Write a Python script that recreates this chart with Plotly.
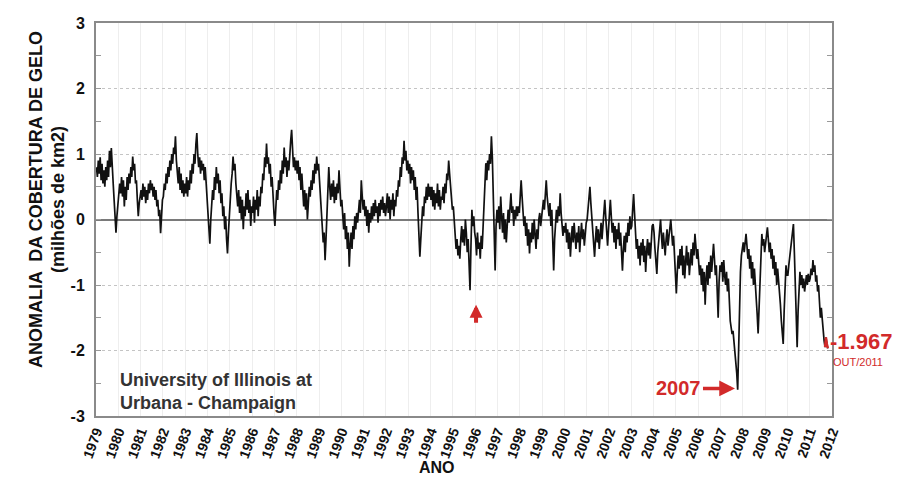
import plotly.graph_objects as go

# Arctic sea-ice area anomaly (million km2), semi-monthly readings, 1979 - Oct 2011
a1979 = [0.80,0.65,0.90,0.70,0.95,0.60,0.85,0.55,0.75,0.50,0.80,0.60,0.90,0.65,1.05,0.80,1.09,0.70,0.55,0.30,0.10,-0.20,0.05,0.25]
a1980 = [0.30,0.55,0.40,0.65,0.35,0.60,0.20,0.50,0.30,0.65,0.45,0.70,0.55,0.80,0.65,0.96,0.75,0.85,0.55,0.60,0.30,0.05,0.25,0.40]
a1981 = [0.45,0.30,0.55,0.35,0.50,0.25,0.45,0.30,0.55,0.40,0.60,0.45,0.55,0.35,0.50,0.30,0.45,0.20,0.30,0.05,0.15,-0.21,0.05,0.30]
a1982 = [0.35,0.55,0.45,0.70,0.55,0.80,0.65,0.90,0.75,1.00,0.85,1.10,1.00,1.27,0.90,0.75,0.55,0.80,0.45,0.70,0.40,0.60,0.35,0.55]
a1983 = [0.40,0.65,0.35,0.60,0.45,0.75,0.55,0.85,0.70,1.00,0.85,1.15,1.32,1.00,0.80,0.95,0.70,0.90,0.75,0.85,0.60,0.80,0.55,0.30]
a1984 = [0.10,-0.20,-0.37,0.00,0.20,0.45,0.30,0.65,0.45,0.80,0.55,0.70,0.40,0.60,0.25,0.40,0.05,0.20,-0.15,0.05,-0.30,-0.52,-0.20,0.10]
a1985 = [0.30,0.55,0.70,0.96,0.75,0.85,0.55,0.40,0.20,0.45,0.10,0.35,0.00,0.30,-0.15,0.20,0.05,0.40,0.15,0.45,0.10,0.30,-0.10,0.20]
a1986 = [0.10,0.35,-0.05,0.30,0.15,0.45,0.05,0.35,0.20,0.50,0.40,0.70,0.60,0.95,0.80,1.16,0.85,0.95,0.70,0.85,0.50,0.65,0.30,0.10]
a1987 = [-0.10,0.20,0.45,0.30,0.60,0.45,0.75,0.55,0.90,0.70,1.10,0.80,0.95,0.65,0.90,0.75,1.05,1.20,1.37,1.00,0.80,0.95,0.75,0.90]
a1988 = [0.70,0.90,0.60,0.80,0.45,0.70,0.35,0.20,0.45,0.15,0.40,0.00,0.25,0.50,0.35,0.60,0.45,0.75,0.55,0.85,0.70,0.96,0.75,0.85]
a1989 = [0.60,0.40,0.20,-0.10,-0.35,-0.20,-0.62,-0.30,0.10,0.40,0.80,0.50,0.30,0.55,0.35,0.60,0.25,0.50,0.30,0.55,0.40,0.75,0.45,0.20]
a1990 = [0.30,0.05,-0.15,0.10,-0.30,-0.10,-0.45,-0.20,-0.72,-0.40,-0.20,-0.45,-0.10,-0.30,0.05,-0.15,0.10,-0.05,0.15,0.30,0.10,0.60,0.35,0.15]
a1991 = [0.30,0.05,0.20,-0.10,0.15,-0.20,0.10,-0.05,0.20,0.00,0.25,0.05,0.30,0.10,0.20,-0.05,0.25,0.05,0.30,0.15,0.35,0.10,0.25,0.05]
a1992 = [0.20,0.40,0.10,0.35,0.00,0.30,0.15,0.40,0.05,0.30,0.20,0.45,0.35,0.60,0.50,0.80,0.65,0.95,0.85,1.20,0.90,1.05,0.75,0.90]
a1993 = [0.70,0.85,0.55,0.80,0.60,0.75,0.45,0.65,0.30,0.50,0.10,-0.20,-0.57,-0.30,0.00,0.20,0.05,0.35,0.25,0.50,0.30,0.55,0.35,0.50]
a1994 = [0.30,0.50,0.20,0.45,0.15,0.40,0.25,0.55,0.20,0.45,0.15,0.35,0.30,0.50,0.25,0.55,0.40,0.70,0.60,0.90,0.70,0.55,0.35,0.15]
a1995 = [0.20,-0.05,-0.25,-0.45,-0.30,-0.55,-0.40,-0.60,-0.30,-0.10,-0.35,-0.15,-0.40,0.00,-0.20,-0.50,-0.30,-0.62,-1.08,-0.40,0.15,-0.10,0.05,-0.20]
a1996 = [-0.30,-0.55,-0.20,-0.45,-0.35,-0.60,-0.25,-0.45,-0.10,0.20,0.50,0.86,0.60,0.90,0.75,1.00,0.85,1.27,0.95,0.40,-0.20,-0.78,-0.10,0.15]
a1997 = [-0.05,0.20,-0.15,0.35,0.05,-0.20,0.10,-0.30,0.00,-0.35,-0.10,0.15,-0.05,0.25,0.40,0.10,0.20,-0.10,0.15,0.00,0.20,0.05,0.20,0.10]
a1998 = [0.30,0.60,0.35,0.10,-0.10,0.05,-0.25,-0.05,-0.40,-0.15,-0.52,-0.20,-0.35,-0.05,-0.30,0.00,-0.25,-0.45,-0.15,-0.30,0.00,0.10,-0.10,0.05]
a1999 = [0.10,0.30,0.15,0.45,0.60,0.35,0.20,0.05,0.25,-0.10,0.15,-0.45,-0.78,-0.30,0.00,0.15,-0.05,0.20,0.05,0.40,0.10,-0.05,-0.25,-0.10]
a2000 = [-0.20,-0.05,-0.35,-0.15,-0.45,-0.20,-0.57,-0.30,-0.10,-0.35,-0.05,-0.25,-0.45,-0.20,-0.35,-0.10,-0.50,-0.25,-0.05,-0.30,-0.15,-0.40,-0.20,-0.05]
a2001 = [0.00,0.14,0.30,0.50,0.25,0.05,-0.20,-0.40,-0.57,-0.30,-0.10,-0.35,-0.15,-0.45,-0.20,-0.05,-0.30,-0.10,0.10,0.30,0.05,-0.20,-0.40,-0.15]
a2002 = [0.10,0.30,0.05,-0.20,-0.05,-0.35,-0.10,-0.45,-0.15,-0.30,-0.05,-0.40,-0.20,-0.50,-0.78,-0.45,-0.25,-0.50,-0.20,-0.35,-0.05,-0.25,0.05,-0.15]
a2003 = [-0.10,0.15,0.39,0.10,-0.20,-0.45,-0.30,-0.60,-0.40,-0.70,-0.35,-0.55,-0.30,-0.65,-0.40,-0.80,-0.50,-0.30,-0.55,-0.35,-0.60,-0.25,-0.10,-0.07]
a2004 = [-0.20,-0.45,-0.60,-0.83,-0.50,-0.30,-0.10,0.00,-0.25,-0.45,-0.20,-0.35,-0.55,-0.30,-0.15,-0.40,-0.25,-0.05,0.00,-0.20,-0.40,-0.25,-0.50,-0.75]
a2005 = [-1.13,-0.80,-0.55,-0.75,-0.45,-0.70,-0.40,-0.85,-0.55,-0.90,-0.60,-0.40,-0.70,-0.50,-0.85,-0.60,-0.45,-0.70,-0.35,-0.55,-0.22,-0.40,-0.60,-0.45]
a2006 = [-0.60,-0.85,-0.70,-1.00,-0.75,-1.10,-0.80,-1.30,-0.90,-0.70,-1.00,-0.65,-0.90,-0.55,-0.80,-0.45,-0.37,-0.60,-0.85,-0.70,-1.10,-1.50,-0.95,-0.70]
a2007 = [-0.80,-0.65,-0.95,-0.62,-0.85,-1.00,-0.80,-1.10,-0.90,-1.30,-1.55,-1.65,-1.75,-1.70,-1.85,-1.95,-2.10,-2.35,-2.60,-1.90,-1.20,-0.80,-0.55,-0.40]
a2008 = [-0.35,-0.50,-0.30,-0.22,-0.40,-0.60,-0.45,-0.75,-0.55,-0.90,-0.65,-1.00,-0.75,-0.95,-1.20,-1.45,-1.74,-1.30,-0.80,-0.45,-0.22,-0.40,-0.30,-0.50]
a2009 = [-0.40,-0.25,-0.12,-0.30,-0.50,-0.35,-0.60,-0.45,-0.75,-0.55,-0.85,-0.65,-1.00,-0.75,-0.90,-1.10,-1.30,-1.55,-1.75,-1.90,-1.40,-0.90,-0.70,-0.85]
a2010 = [-0.85,-0.70,-0.55,-0.40,-0.30,-0.20,-0.07,-0.50,-1.10,-1.60,-1.95,-1.40,-1.00,-0.80,-1.00,-0.85,-1.05,-0.90,-1.10,-0.95,-0.85,-1.00,-0.83,-0.95]
a2011 = [-0.90,-0.75,-0.85,-0.62,-0.80,-0.70,-0.95,-0.85,-1.10,-1.00,-1.25,-1.50,-1.35,-1.55,-1.70,-1.85,-1.95,-1.80,-1.90,-1.967]

years = list(range(1979, 2012))
yearly = [a1979, a1980, a1981, a1982, a1983, a1984, a1985, a1986, a1987, a1988,
          a1989, a1990, a1991, a1992, a1993, a1994, a1995, a1996, a1997, a1998,
          a1999, a2000, a2001, a2002, a2003, a2004, a2005, a2006, a2007, a2008,
          a2009, a2010, a2011]
year_ticks = list(range(1979, 2013))
y_ticks = [-3, -2, -1, 0, 1, 2, 3]

t, anom = [], []
for yr, vals in zip(years, yearly):
    for i, v in enumerate(vals):
        t.append(yr + (i + 0.5) / 24)
        anom.append(v)

RED = "#d22a2a"
FONT = "Arial, Liberation Sans, sans-serif"

fig = go.Figure()
fig.add_trace(go.Scatter(x=t, y=anom, mode="lines",
                         line=dict(color="#111111", width=1.7), showlegend=False))
# latest readings highlighted in red
fig.add_trace(go.Scatter(x=t[-4:], y=anom[-4:], mode="lines",
                         line=dict(color=RED, width=2.4), showlegend=False))

fig.update_layout(
    width=913, height=483,
    margin=dict(l=96, r=81, t=23, b=67),
    paper_bgcolor="white", plot_bgcolor="white",
    font=dict(family=FONT, color="#111111"),
    xaxis=dict(range=[1979, 2012], tickvals=year_ticks,
               ticktext=[str(y) for y in year_ticks], tickangle=-70,
               tickfont=dict(size=14, weight="bold", color="#111111"),
               showgrid=True, gridcolor="#eeeeee", gridwidth=1,
               showline=True, linecolor="#8a8a8a", linewidth=2, mirror=True,
               ticks="", zeroline=False, automargin=False),
    yaxis=dict(range=[-3, 3], tickvals=y_ticks,
               ticktext=[str(v) for v in y_ticks],
               tickfont=dict(size=16, weight="bold", color="#111111"),
               ticklabelstandoff=6,
               showgrid=True, gridcolor="#c4c4c4", griddash="dot", gridwidth=1,
               zeroline=True, zerolinecolor="#7a7a7a", zerolinewidth=1.5,
               showline=True, linecolor="#8a8a8a", linewidth=2, mirror="ticks",
               ticks="inside", ticklen=4, tickcolor="#999999",
               minor=dict(dtick=0.5, ticks="inside", ticklen=5, tickcolor="#999999"),
               automargin=False),
)

W, H, L, T = 736, 393, 96, 23
def px(x):
    return (x - L) / W
def py(y):
    return (T + H - y) / H

annotations = [
    dict(text="ANOMALIA  DA COBERTURA DE GELO", x=px(36), y=py(200), textangle=-90,
         font=dict(size=18, weight="bold", color="#111111")),
    dict(text="(milhões de km2)", x=px(58), y=py(200), textangle=-90,
         font=dict(size=18, weight="bold", color="#111111")),
    dict(text="ANO", x=px(437), y=py(467),
         font=dict(size=16, weight="bold", color="#111111")),
    dict(text="University of Illinois at<br>Urbana - Champaign", x=px(118), y=py(391),
         xanchor="left", align="left",
         font=dict(size=18, weight="bold", color="#333333")),
    dict(text=f"{anom[-1]:.3f}", x=px(828), y=py(341), xanchor="left",
         font=dict(size=22, weight="bold", color=RED)),
    dict(text="OUT/2011", x=px(831), y=py(362), xanchor="left",
         font=dict(size=11, color=RED)),
]
for a in annotations:
    a.update(xref="paper", yref="paper", showarrow=False)
    a.setdefault("xanchor", "center")
    a.setdefault("yanchor", "middle")

# 2007 record minimum pointer
annotations.append(dict(text="2007", x=2007.65, y=-2.58, xref="x", yref="y",
                        ax=-56, ay=0, showarrow=True, arrowhead=2, arrowsize=0.9,
                        arrowwidth=3.5, arrowcolor=RED,
                        font=dict(size=20, weight="bold", color=RED)))
# 1995 low pointer
annotations.append(dict(text=" ", x=1996.04, y=-1.30, xref="x", yref="y",
                        ax=0, ay=22, showarrow=True, arrowhead=2, arrowsize=0.65,
                        arrowwidth=4, arrowcolor=RED, font=dict(size=4)))
fig.update_layout(annotations=annotations)

fig.write_html("out.html")
